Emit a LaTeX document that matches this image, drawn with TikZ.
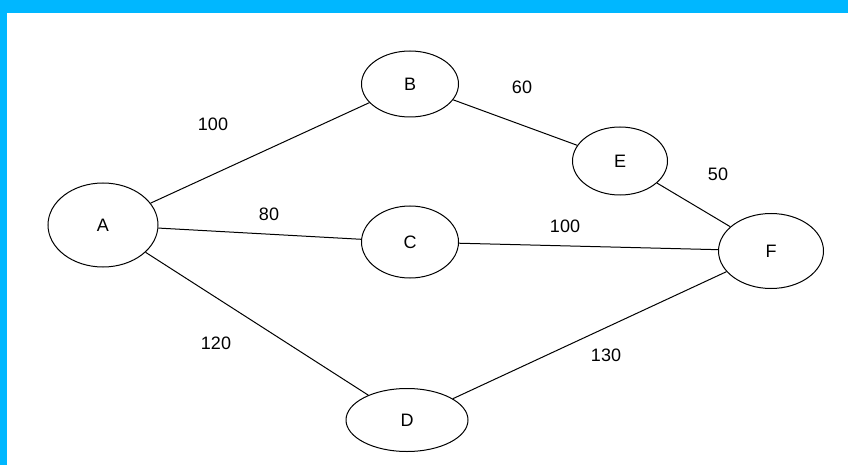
\documentclass[tikz,border=0pt]{standalone}
\usepackage{fontspec}
\setmainfont{Liberation Sans}
\usepackage{tikz}
\usetikzlibrary{positioning,shapes}
\definecolor{framecyan}{RGB}{0,183,255}

\begin{document}
\begin{tikzpicture}
            [x=1pt,y=-1pt,line width=1pt,every node/.style={draw, ellipse, inner sep = 0pt, font=\fontsize{18}{20}\selectfont}]
          \useasboundingbox (0,0) rectangle (848,465);
          \fill[framecyan] (0,0) rectangle (848,13);
          \fill[framecyan] (0,0) rectangle (7,465);

          \node[minimum width=110pt, minimum height=84pt] (A) at (103,225) {A};
          \node[minimum width=97pt, minimum height=66pt] (B) at (410,84) {B};
          \node[minimum width=97pt, minimum height=72pt] (C) at (410,242) {C};
          \node[minimum width=122pt, minimum height=63pt] (D) at (407,420) {D};
          \node[minimum width=95pt, minimum height=68pt] (E) at (620,161) {E};
          \node[minimum width=105pt, minimum height=75pt] (F) at (771,251) {F};

          \foreach \from/\to/\weight/\lx/\ly [count=\i] in {A/B/100/213/124, B/E/60/522/87, E/F/50/718/174, A/C/80/269/214, C/F/100/565/226, A/D/120/216/343, D/F/130/606/355}
            {\draw (\from) -- (\to);
             \node[draw=none] (w\i) at (\lx,\ly) {\weight};}
        \end{tikzpicture}
\end{document}
